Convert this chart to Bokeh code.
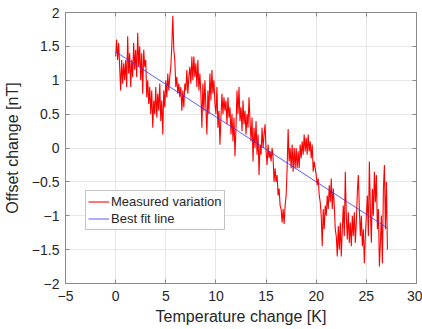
import numpy as np
from bokeh.plotting import figure
from bokeh.models import LinearAxis, Legend, LegendItem, FixedTicker, CustomJSTickFormatter
from bokeh.embed import file_html
from bokeh.resources import INLINE

# Measured variation (offset change in nT), sampled every 0.1 K starting at 0 K
x_step = 0.1
measured = [
    1.35, 1.6, 1.3, 1.55, 1.2,
    0.85, 1.3, 0.95, 1.25, 1.0,
    1.3, 0.9, 1.65, 1.1, 1.4,
    0.9, 1.3, 1.05, 1.55, 1.15,
    1.45, 1.05, 1.7, 1.2, 1.5,
    1.0, 1.4, 0.8, 1.45, 1.2,
    1.3, 0.75, 1.0, 0.65, 0.9,
    0.5, 0.85, 0.3, 0.7, 0.5,
    0.9, 0.45, 0.8, 0.55, 0.95,
    0.4, 0.7, 0.2, 0.85, 0.6,
    1.0, 0.75, 1.1, 0.85, 1.05,
    1.2, 1.5, 1.95, 1.45, 1.3,
    0.9, 1.05, 0.8, 0.95, 0.75,
    0.9, 0.55, 0.85, 0.6, 0.95,
    0.85, 1.15, 0.8, 1.05, 1.2,
    0.95, 1.35, 1.0, 1.35, 1.05,
    1.25, 0.9, 1.3, 0.85, 1.1,
    0.8, 0.3, 0.95, 0.55, 1.0,
    0.6, 0.2, 0.85, 0.5, 1.1,
    0.7, 1.15, 0.8, 1.0, 0.65,
    0.5, 0.9, 0.3, 0.55, 0.05,
    0.45, 0.8, 0.5, 0.75, 0.55,
    0.7, 0.35, 0.75, 0.45, 0.6,
    0.2, 0.5, 0.1, 0.45, -0.12,
    0.3, 0.85, 0.5, 0.9, 0.4,
    0.6, 0.25, 0.7, 0.35, 0.55,
    0.2, 0.5, 0.3, 0.75, 0.4,
    0.1, 0.45, -0.2, 0.3, 0.0,
    0.4, -0.1, 0.2, -0.4, 0.05,
    -0.1, 0.3, 0.0, 0.2, 0.35,
    -0.05, -0.25, 0.05, -0.15, -0.05,
    -0.2, 0.0, -0.15, -0.5, -0.3,
    -0.5, -0.4, -0.7, -0.6, -0.85,
    -0.9, -1.1, -0.9, -1.12, -0.85,
    -0.7, -0.3, 0.28, -0.2, 0.0,
    -0.3, 0.05, -0.35, 0.0, -0.3,
    0.0, -0.3, -0.05, -0.3, 0.05,
    -0.15, 0.1, -0.1, 0.2, -0.05,
    0.15, -0.1, 0.2, -0.05, 0.1,
    -0.15, 0.05, -0.35, -0.2, -0.3,
    -0.4, -0.55, -0.45, -0.7, -0.8,
    -1.0, -1.45, -0.9, -1.2, -0.85,
    -1.0, -0.7, -0.9, -0.55, -0.8,
    -0.45, -0.9, -0.6, -0.85, -1.2,
    -1.3, -1.6, -1.15, -1.5, -1.1,
    -1.6, -1.2, -0.85, -1.3, -0.35,
    -1.0, -1.35, -0.95, -1.4, -1.1,
    -1.45, -1.0, -1.3, -0.95, -1.4,
    -1.1, -0.65, -0.4, -0.9, -1.3,
    -1.0, -1.45, -1.2, -1.7, -1.3,
    -1.0, -0.7, -1.3, -0.2, -0.9,
    -1.4, -0.6, -1.0, -0.35, -0.8,
    -0.4, -1.2, -0.9, -1.75, -1.4,
    -1.0, -1.7, -0.6, -0.25, -1.2,
    -0.5, -1.5,
]
temperature = [round(i * x_step, 1) for i in range(len(measured))]

# Best fit line end points
fit_x = [0.0, 27.1]
fit_y = [1.42, -1.18]

x_ticks = [-5, 0, 5, 10, 15, 20, 25, 30]
y_ticks = [-2, -1.5, -1, -0.5, 0, 0.5, 1, 1.5, 2]

FONT = "Liberation Sans"
TXT = "#262626"
AX = "#8a8a8a"

p = figure(width=422, height=329, output_backend="svg", toolbar_location=None,
           x_range=(-5, 30), y_range=(-2, 2),
           min_border_left=63, min_border_right=6, min_border_top=12, min_border_bottom=46)
p.background_fill_color = "white"
p.border_fill_color = "white"
p.outline_line_color = AX
p.outline_line_width = 1

r1 = p.line(temperature, measured, line_color="#ff0000", line_width=1.1)
r2 = p.line(fit_x, fit_y, line_color="#3333ff", line_width=1, line_alpha=0.8)

for ax in (p.xaxis[0], p.yaxis[0]):
    ax.major_tick_in = 4
    ax.major_tick_out = 0
    ax.minor_tick_in = 0
    ax.minor_tick_out = 0
    ax.axis_line_color = AX
    ax.major_tick_line_color = AX
    ax.major_label_text_font = FONT
    ax.major_label_text_font_size = "14px"
    ax.major_label_text_color = TXT
    ax.axis_label_text_font = FONT
    ax.axis_label_text_font_size = "16px"
    ax.axis_label_text_font_style = "normal"
    ax.axis_label_text_color = TXT

p.xaxis[0].ticker = FixedTicker(ticks=x_ticks)
p.yaxis[0].ticker = FixedTicker(ticks=y_ticks)
p.xaxis[0].axis_label = "Temperature change [K]"
p.yaxis[0].axis_label = "Offset change [nT]"
p.xaxis[0].major_label_standoff = 7
p.yaxis[0].major_label_standoff = 6
p.xaxis[0].axis_label_standoff = 4
p.yaxis[0].axis_label_standoff = 8

empty = CustomJSTickFormatter(code="return ''")
top = LinearAxis(ticker=FixedTicker(ticks=x_ticks), formatter=empty,
                 major_tick_in=4, major_tick_out=0, minor_tick_in=0, minor_tick_out=0,
                 axis_line_color=AX, major_tick_line_color=AX, major_label_standoff=0)
right = LinearAxis(ticker=FixedTicker(ticks=y_ticks), formatter=empty,
                   major_tick_in=4, major_tick_out=0, minor_tick_in=0, minor_tick_out=0,
                   axis_line_color=AX, major_tick_line_color=AX, major_label_standoff=0)
p.add_layout(top, "above")
p.add_layout(right, "right")

p.xgrid.ticker = FixedTicker(ticks=x_ticks)
p.ygrid.ticker = FixedTicker(ticks=y_ticks)
p.grid.grid_line_color = "#e6e6e6"
p.grid.grid_line_width = 1

legend = Legend(items=[LegendItem(label="Measured variation", renderers=[r1]),
                       LegendItem(label="Best fit line", renderers=[r2])],
                location=(20, 53), margin=0, padding=2, spacing=0,
                glyph_width=21, glyph_height=17, label_height=17, label_standoff=2,
                label_text_font=FONT, label_text_font_size="13px", label_text_color=TXT,
                border_line_color=AX, border_line_width=1, background_fill_alpha=1)
p.add_layout(legend, "center")

open("out.html", "w").write(file_html(p, INLINE))
